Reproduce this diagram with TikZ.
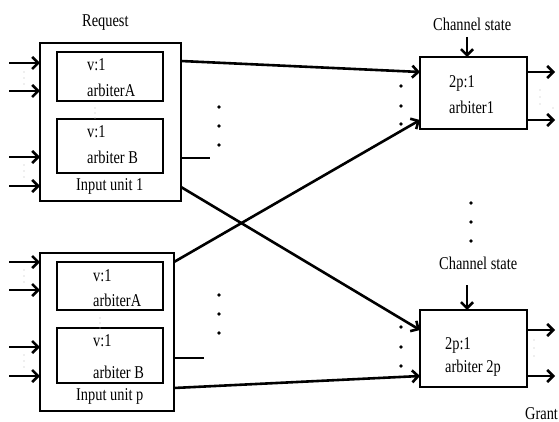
\documentclass[tikz,border=0pt]{standalone}
\usepackage{fontspec}
\setmainfont[FakeStretch=0.8]{Liberation Serif}
\usetikzlibrary{arrows.meta,calc}
\begin{document}
\begin{tikzpicture}[x=1pt,y=-1pt,
  box/.style={draw,line width=2.6pt,inner sep=0pt,outer sep=0pt},
  lbl/.style={anchor=base west,inner sep=0pt,font=\fontsize{18}{20}\selectfont},
  wire/.style={line width=2.6pt},
  arr/.style={line width=2.6pt,-{Straight Barb[length=6pt,width=12pt]}},
  bigdot/.style={fill=black,draw=none},
  faint/.style={fill=gray!55,draw=none}]
\useasboundingbox (0,0) rectangle (559,422);
% boxes
\node[box,minimum width=141pt,minimum height=158pt] (iu1) at (110.5,122) {};
\node[box,minimum width=106pt,minimum height=49pt] (a1) at (110,76.5) {};
\node[box,minimum width=106pt,minimum height=54pt] (b1) at (110,146) {};
\node[box,minimum width=134pt,minimum height=158pt] (iup) at (107,332) {};
\node[box,minimum width=106pt,minimum height=48pt] (ap) at (110,286) {};
\node[box,minimum width=106pt,minimum height=55pt] (bp) at (110,355.5) {};
\node[box,minimum width=107pt,minimum height=72pt] (arb1) at (473.5,93) {};
\node[box,minimum width=107pt,minimum height=77pt] (arb2) at (473.5,348.5) {};
% texts
\node[lbl] (req) at (82,27) {Request};
\node[lbl] (t1) at (87,71) {v:1};
\node[lbl] (t2) at (87,97) {arbiterA};
\node[lbl] (t3) at (87,138) {v:1};
\node[lbl] (t4) at (87,164) {arbiter B};
\node[lbl] (t5) at (76,190) {Input unit 1};
\node[lbl] (t6) at (93,281) {v:1};
\node[lbl] (t7) at (93,306) {arbiterA};
\node[lbl] (t8) at (93,346) {v:1};
\node[lbl] (t9) at (93,378) {arbiter B};
\node[lbl] (t10) at (76,400) {Input unit p};
\node[lbl] (cs1) at (433,31) {Channel state};
\node[lbl] (t11) at (449,88) {2p:1};
\node[lbl] (t12) at (449,114) {arbiter1};
\node[lbl] (cs2) at (439,269) {Channel state};
\node[lbl] (t13) at (445,349) {2p:1};
\node[lbl] (t14) at (445,372) {arbiter 2p};
\node[lbl] (grant) at (525,419) {Grant};
% input arrows
\foreach \n/\y in {i1/63,i2/91,i3/157,i4/186}{
  \coordinate (\n) at (9,\y);
  \draw[arr] (\n) -- (\n -| iu1.west);
}
\foreach \n/\y in {j1/262,j2/290,j3/347,j4/376}{
  \coordinate (\n) at (9,\y);
  \draw[arr] (\n) -- (\n -| iup.west);
}
% output arrows
\foreach \n/\y in {o1/72,o2/120,o3/330,o4/376}{
  \coordinate (\n) at (555,\y);
  \draw[arr] (\n -| arb1.east) -- (\n);
}
% channel state arrows
\coordinate (c1) at (467,37);
\draw[arr] (c1) -- (c1 |- arb1.north);
\coordinate (c2) at (467,285);
\draw[arr] (c2) -- (c2 |- arb2.north);
% crossing connections
\coordinate (s1) at (181,61);
\coordinate (s2) at (181,187);
\coordinate (s3) at (174,262);
\coordinate (s4) at (174,388);
\draw[arr] (s1) -- (arb1.west |- o1);
\draw[arr] (s3) -- (arb1.west |- o2);
\draw[arr] (s2) -- (arb2.west |- o3);
\draw[arr] (s4) -- (arb2.west |- o4);
% short stubs
\coordinate (e1) at (210,158);
\draw[wire] (e1 -| iu1.east) -- (e1);
\coordinate (e2) at (204,358);
\draw[wire] (e2 -| iup.east) -- (e2);
% big dots
\foreach \p in {(219,107),(219,126),(219,145),(219,295),(219,314),(219,333),
  (401,86),(401,106),(401,124),(471,203),(471,222),(471,241),
  (401,327),(401,347),(401,366)}{
  \fill[bigdot] \p circle (1.8);
}
% faint dots
\foreach \p in {(24,72),(24,78),(24,84),(24,165),(24,171),(24,177),
  (24,270),(24,276),(24,282),(24,355),(24,361),(24,367),
  (95,108),(95,113),(95,118),(100,318),(100,323),(100,328),
  (540,90),(540,97),(540,104),(553,108),
  (534,340),(534,348),(534,356)}{
  \fill[faint] \p circle (0.7);
}
\end{tikzpicture}
\end{document}
